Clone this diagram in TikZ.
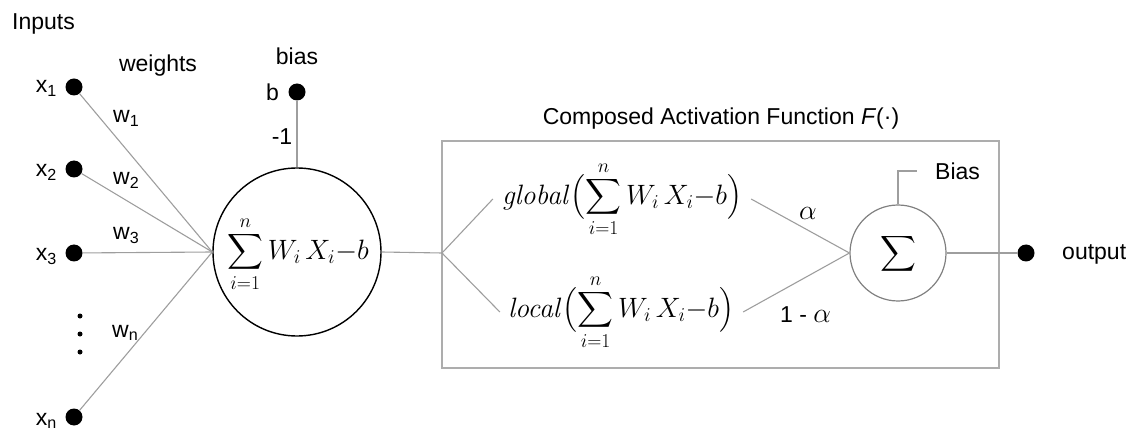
\RequirePackage{fix-cm}
\documentclass[tikz,border=0pt]{standalone}
\usepackage{amsmath}
\usepackage[no-math]{fontspec}
\setmainfont{Liberation Sans}

\tikzset{
  lbl/.style={font=\fontsize{23}{27}\selectfont, inner sep=0pt},
  mth/.style={font=\fontsize{28}{32}\selectfont, inner sep=0pt},
  wire/.style={draw=black!38, line width=1.1pt},
  dot/.style={circle, fill=black, minimum size=17pt, inner sep=0pt},
  smalldot/.style={circle, fill=black, minimum size=5pt, inner sep=0pt},
  neuron/.style={circle, draw=black, line width=1.4pt, minimum size=168pt, inner sep=0pt},
  adder/.style={circle, draw=black!50, line width=1.2pt, minimum size=96pt, inner sep=0pt},
  frame/.style={draw=black!32, line width=1.3pt, minimum width=557pt, minimum height=227pt, inner sep=0pt}
}

\newcommand{\wsum}{\displaystyle\sum_{i=1}^{n} W_{i}\,X_{i}{-}b}

\begin{document}
\begin{tikzpicture}[x=1pt, y=-1pt]
  \useasboundingbox (0,0) rectangle (1137,430);

  % headings
  \node[lbl, anchor=base west] (inputs) at (12,30) {Inputs};
  \node[lbl, anchor=base] (weights) at (158,72) {weights};
  \node[lbl, anchor=base] (biaslbl) at (297,65) {bias};

  % input points
  \node[dot] (x1) at (74,87) {};
  \node[dot] (x2) at (74,169) {};
  \node[dot] (x3) at (74,253) {};
  \node[dot] (xn) at (74,417) {};
  \node[lbl, anchor=base east] (lx1) at (57,93) {x\textsubscript{1}};
  \node[lbl, anchor=base east] (lx2) at (57,177) {x\textsubscript{2}};
  \node[lbl, anchor=base east] (lx3) at (57,261) {x\textsubscript{3}};
  \node[lbl, anchor=base east] (lxn) at (57,425) {x\textsubscript{n}};
  \node[smalldot] (vd1) at (80,316) {};
  \node[smalldot] (vd2) at (80,334) {};
  \node[smalldot] (vd3) at (80,352) {};

  % neuron
  \node[neuron] (s) at (297,252) {};
  \node[mth] (sumtxt) at (298,254) {$\wsum$};

  % bias input
  \node[dot] (bdot) at (297,92) {};
  \node[lbl, anchor=base east] (lb) at (279,101) {b};
  \node[lbl, anchor=base] (lminus) at (282,145) {-1};
  \draw[wire] (bdot) -- (s.north);

  % weighted inputs
  \foreach \p in {x1,x2,x3,xn} \draw[wire] (\p) -- (s.west);
  \node[lbl, anchor=base west] (w1) at (113,123) {w\textsubscript{1}};
  \node[lbl, anchor=base west] (w2) at (113,185) {w\textsubscript{2}};
  \node[lbl, anchor=base west] (w3) at (113,240) {w\textsubscript{3}};
  \node[lbl, anchor=base west] (wn) at (112,337) {w\textsubscript{n}};

  % composed activation
  \node[frame] (box) at (720.5,254.5) {};
  \node[lbl, anchor=base] (title) at (721,125) {Composed Activation Function \textit{F}(·)};
  \coordinate (br) at (442,253);
  \draw[wire] (s.east) -- (br);

  \node[mth] (glob) at (622,199) {$\mathit{global}\bigl(\wsum\bigr)$};
  \node[mth] (loc) at (621,312) {$\mathit{local}\bigl(\wsum\bigr)$};
  \draw[wire] (br) -- ([xshift=-9pt]glob.west);
  \draw[wire] (br) -- ([xshift=-8pt]loc.west);

  \node[adder] (sig) at (898,253) {};
  \node[inner sep=0pt, font=\fontsize{31}{36}\selectfont] (sigtxt) at (898,254) {$\displaystyle\sum$};
  \draw[wire] ([xshift=9pt]glob.east) -- (sig.west);
  \draw[wire] ([xshift=9pt]loc.east) -- (sig.west);
  \node[mth, anchor=base] (alpha) at (808,220) {$\alpha$};
  \node[lbl, anchor=base west] (oneminus) at (780,322) {1 - \fontsize{28}{32}\selectfont$\alpha$};

  \coordinate (bz) at (917,171);
  \draw[wire] (sig.north) |- (bz);
  \node[lbl, anchor=base west] (biasr) at (935,180) {Bias};

  % output
  \node[dot] (out) at (1026,253) {};
  \draw[wire] (sig.east) -- (out);
  \node[lbl, anchor=base west] (outlbl) at (1062,260) {output};
\end{tikzpicture}
\end{document}
